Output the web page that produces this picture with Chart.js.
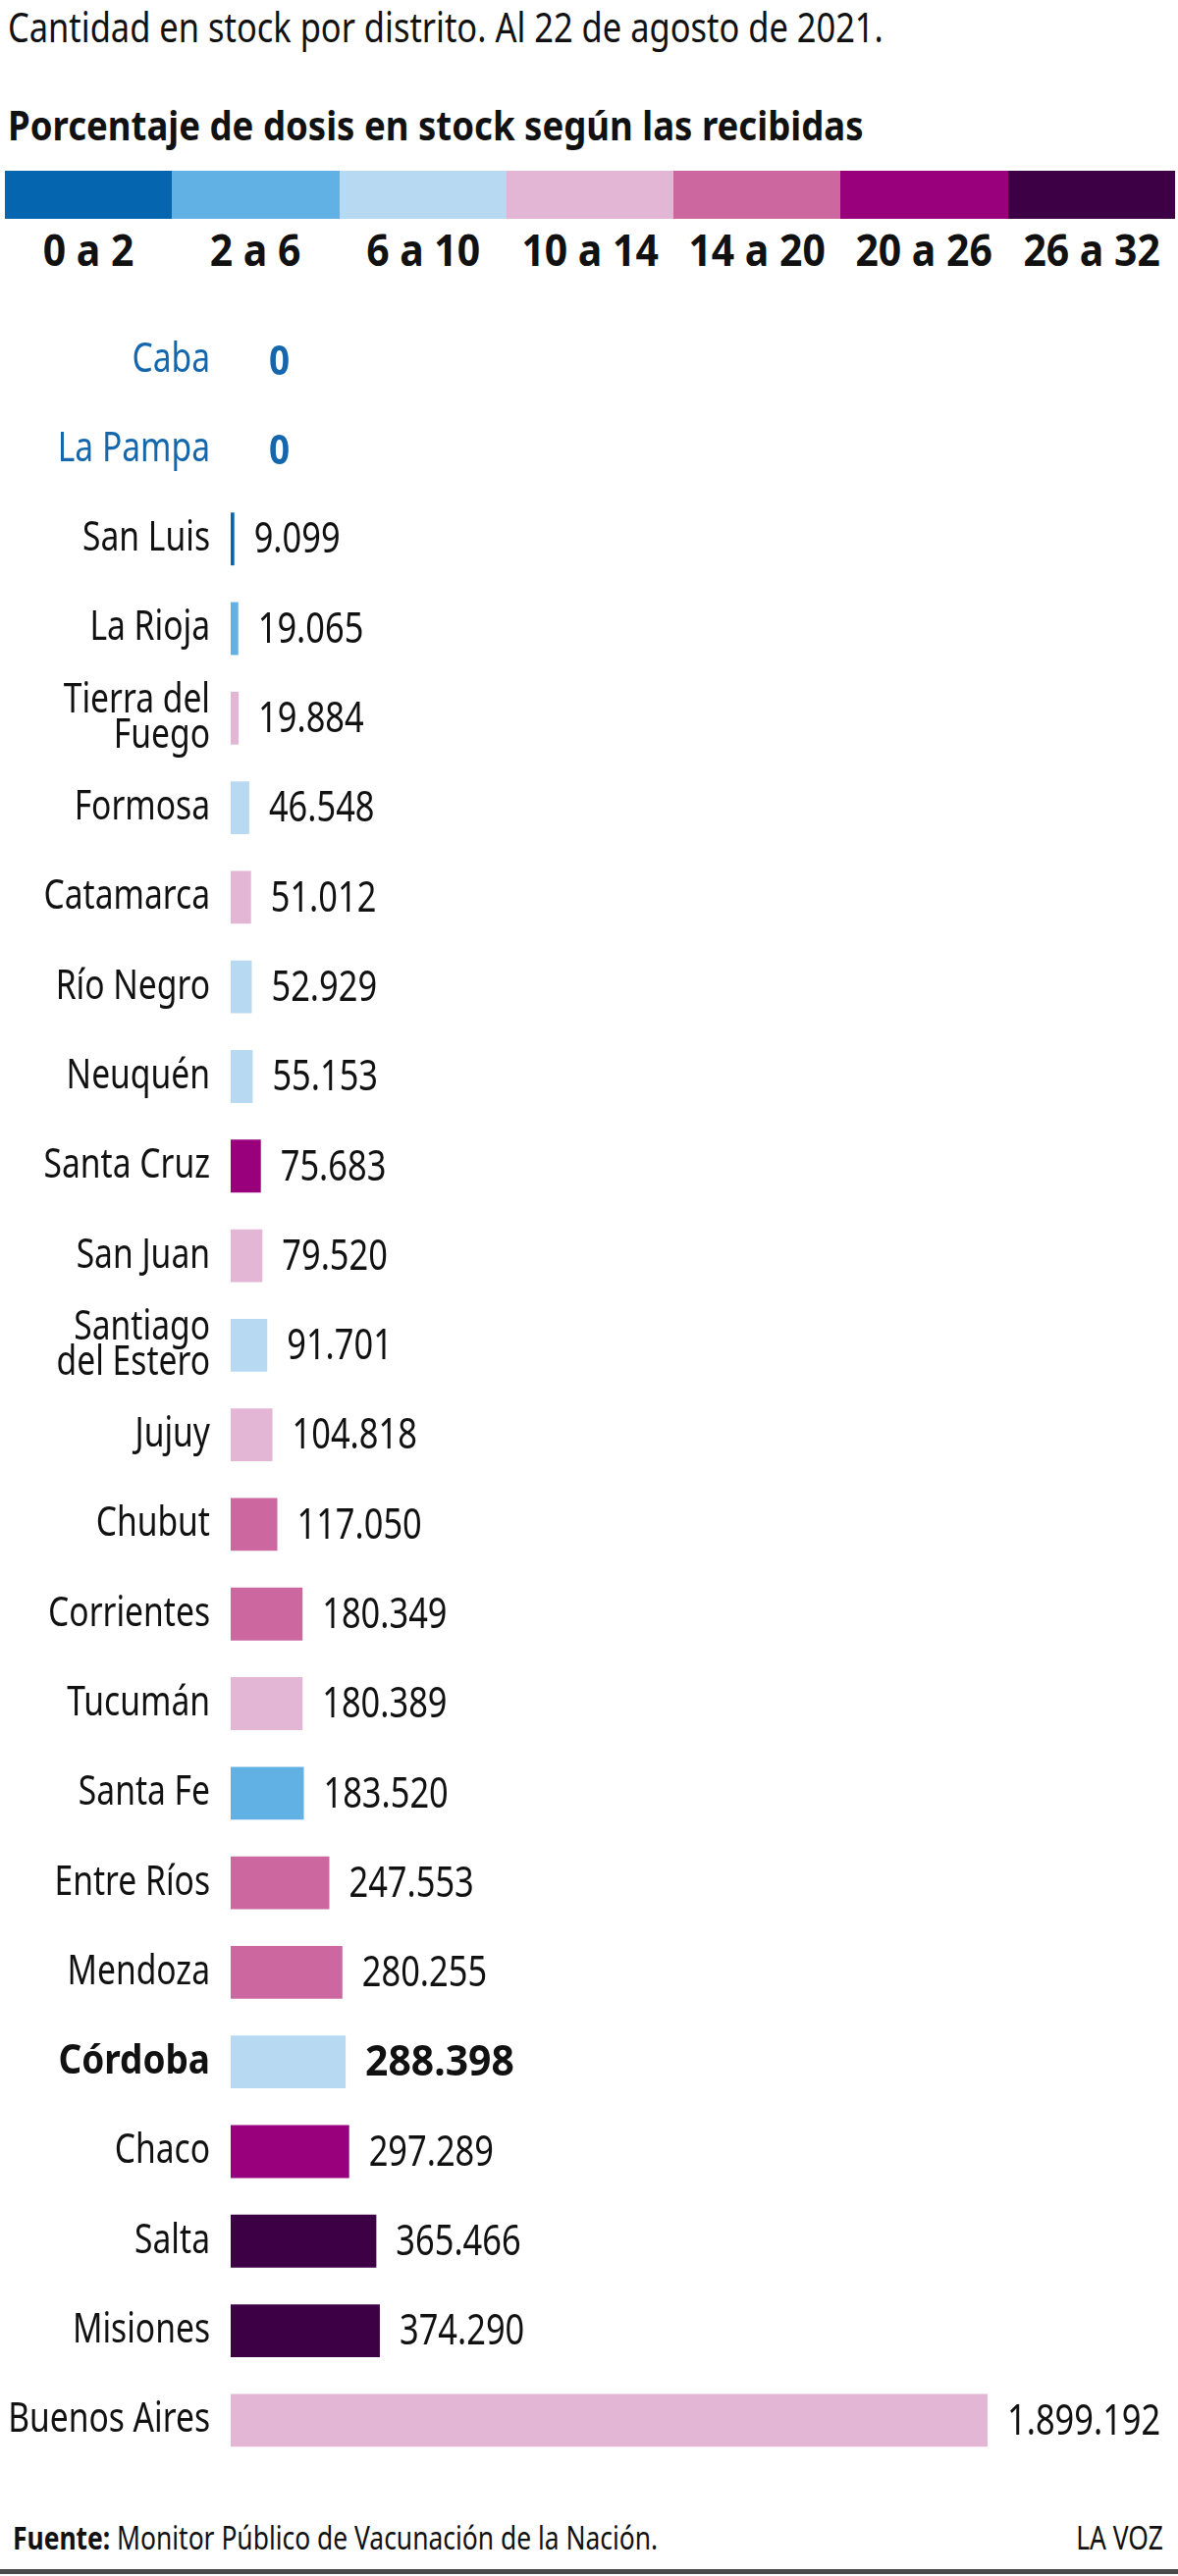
<!DOCTYPE html>
<html lang="es">
<head>
<meta charset="UTF-8">
<title>Dosis en stock por distrito</title>
<script src="https://cdn.jsdelivr.net/npm/chart.js"></script>
<style>
    body {
        margin: 0;
        background: #fff;
        font-family: 'Noto Sans', sans-serif;
        color: #111;
    }
    .page {
        position: relative;
        width: 1200px;
        height: 2625px;
        overflow: hidden;
    }
    .abs { position: absolute; white-space: nowrap; }
    /* la fuente original es condensada: se comprime en horizontal */
    .angosta { transform: scaleX(0.8); transform-origin: left center; }
    #titulo { left: 8px; top: 2px; font-size: 42px; line-height: 50px; transform: scaleX(0.82); }
    #subtitulo { left: 8px; top: 102px; font-size: 42px; line-height: 50px; font-weight: bold; transform: scaleX(0.87); }
    #leyenda { left: 5px; top: 174px; width: 1192px; display: flex; }
    .seg { flex: 1; }
    .seg .color { height: 49px; }
    .seg .txt { text-align: center; font-size: 44px; font-weight: bold; line-height: 62px; transform: scaleX(0.93); }
    .chart-box { position: absolute; left: 0; top: 321px; width: 1200px; height: 2191px; }
    #fuente { left: 13px; top: 2565px; font-size: 33px; line-height: 42px; }
    #firma { right: 15px; top: 2565px; font-size: 33px; line-height: 42px; transform: scaleX(0.8); transform-origin: right center; }
    #regla { left: 0; top: 2618px; width: 1200px; height: 5px; background: #4a4a4a; }
</style>
</head>
<body>
<div class="page">
    <div class="abs angosta" id="titulo">Cantidad en stock por distrito. Al 22 de agosto de 2021.</div>
    <div class="abs angosta" id="subtitulo">Porcentaje de dosis en stock según las recibidas</div>
    <div class="abs" id="leyenda"></div>
    <div class="chart-box"><canvas id="barras"></canvas></div>
    <div class="abs angosta" id="fuente"><b>Fuente:</b> Monitor Público de Vacunación de la Nación.</div>
    <div class="abs" id="firma">LA VOZ</div>
    <div class="abs" id="regla"></div>
</div>

<script>
    // datos
    const provincias = ['Caba', 'La Pampa', 'San Luis', 'La Rioja', ['Tierra del', 'Fuego'], 'Formosa',
        'Catamarca', 'Río Negro', 'Neuquén', 'Santa Cruz', 'San Juan', ['Santiago', 'del Estero'],
        'Jujuy', 'Chubut', 'Corrientes', 'Tucumán', 'Santa Fe', 'Entre Ríos', 'Mendoza', 'Córdoba',
        'Chaco', 'Salta', 'Misiones', 'Buenos Aires'];
    const dosisEnStock = [0, 0, 9099, 19065, 19884, 46548, 51012, 52929, 55153, 75683, 79520, 91701,
        104818, 117050, 180349, 180389, 183520, 247553, 280255, 288398, 297289, 365466, 374290, 1899192];
    // indice del rango de porcentaje (ver rangos)
    const rangoProvincia = [0, 0, 0, 1, 3, 2, 3, 2, 2, 5, 3, 2, 3, 4, 4, 3, 1, 4, 4, 2, 5, 6, 6, 3];
    const rangos = ['0 a 2', '2 a 6', '6 a 10', '10 a 14', '14 a 20', '20 a 26', '26 a 32'];
    const coloresRango = ['#0565ae', '#62b1e4', '#b8d9f2', '#e2b6d4', '#cc67a0', '#98007c', '#3d0044'];
    const destacada = 'Córdoba';

    const FUENTE = "'Noto Sans', sans-serif";
    const AZUL = '#1467ad';
    const ANCHO = 0.8; // compresion horizontal del texto
    const ANCHO_NEGRITA = 0.88;

    // leyenda
    const leyenda = document.getElementById('leyenda');
    rangos.forEach((r, i) => {
        const seg = document.createElement('div');
        seg.className = 'seg';
        seg.innerHTML = '<div class="color" style="background:' + coloresRango[i] + '"></div><div class="txt">' + r + '</div>';
        leyenda.appendChild(seg);
    });

    function formatoMiles(v) {
        return String(v).replace(/\B(?=(\d{3})+(?!\d))/g, '.');
    }

    function esDestacada(i) {
        return provincias[i] === destacada;
    }

    function textoAngosto(ctx, txt, x, y, align, sx) {
        ctx.save();
        ctx.translate(x, y);
        ctx.scale(sx || ANCHO, 1);
        ctx.textAlign = align;
        ctx.fillText(txt, 0, 0);
        ctx.restore();
    }

    // nombres de provincias y valores, en letra condensada
    const textos = {
        id: 'textos',
        afterDatasetsDraw(chart) {
            const ctx = chart.ctx;
            const yScale = chart.scales.y;
            const meta = chart.getDatasetMeta(0);
            ctx.save();
            ctx.textBaseline = 'middle';
            provincias.forEach((nombre, i) => {
                const y = yScale.getPixelForValue(i);
                const cero = dosisEnStock[i] === 0;
                const negrita = esDestacada(i);
                ctx.font = (negrita ? 'bold ' : '') + '42px ' + FUENTE;
                ctx.fillStyle = cero ? AZUL : '#111';
                const lineas = Array.isArray(nombre) ? nombre : [nombre];
                lineas.forEach((l, k) => {
                    const dy = (k - (lineas.length - 1) / 2) * 36;
                    textoAngosto(ctx, l, yScale.right - 21, y + dy, 'right', negrita ? ANCHO_NEGRITA : ANCHO);
                });
            });
            meta.data.forEach((bar, i) => {
                const v = dosisEnStock[i];
                if (v === 0) {
                    ctx.font = 'bold 42px ' + FUENTE;
                    ctx.fillStyle = AZUL;
                    textoAngosto(ctx, '0', bar.base + 39, bar.y + 3, 'left', ANCHO_NEGRITA);
                    return;
                }
                const negrita = esDestacada(i);
                ctx.font = (negrita ? 'bold ' : '') + '43px ' + FUENTE;
                ctx.fillStyle = '#111';
                textoAngosto(ctx, formatoMiles(v), bar.x + 20, bar.y + 2, 'left', negrita ? 0.95 : ANCHO);
            });
            ctx.restore();
        }
    };

    new Chart(document.getElementById('barras'), {
        type: 'bar',
        data: {
            labels: provincias,
            datasets: [{
                data: dosisEnStock,
                backgroundColor: rangoProvincia.map(r => coloresRango[r]),
                borderWidth: 0,
                categoryPercentage: 1,
                barPercentage: 0.59
            }]
        },
        options: {
            indexAxis: 'y',
            responsive: true,
            maintainAspectRatio: false,
            animation: false,
            layout: { padding: 0 },
            plugins: {
                legend: { display: false },
                tooltip: { enabled: false }
            },
            scales: {
                x: {
                    display: false,
                    min: 0,
                    max: 2377000
                },
                y: {
                    grid: { display: false, drawTicks: false },
                    border: { display: false },
                    ticks: { display: false },
                    afterFit(scale) {
                        scale.width = 235;
                        scale.paddingTop = 0;
                        scale.paddingBottom = 0;
                    }
                }
            }
        },
        plugins: [textos]
    });
</script>
</body>
</html>
